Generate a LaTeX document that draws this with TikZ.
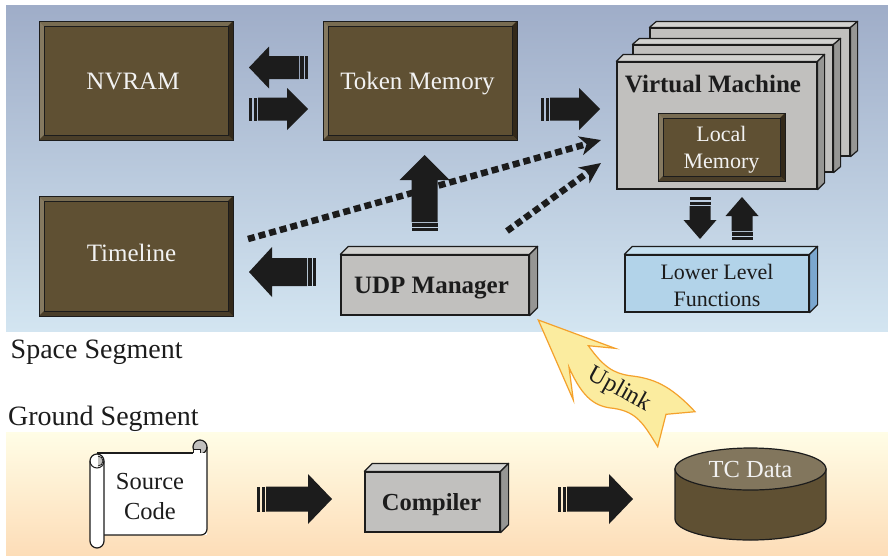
\documentclass[tikz,border=0pt]{standalone}
\usepackage{fontspec}
\setmainfont{Liberation Serif}
\usetikzlibrary{calc,arrows.meta,shapes.geometric}
\definecolor{skyTop}{HTML}{9FADC8}
\definecolor{skyBot}{HTML}{D3E5F1}
\definecolor{sandTop}{HTML}{FFFDE6}
\definecolor{sandBot}{HTML}{FDDDB8}
\definecolor{ink}{HTML}{1C1C1C}
\definecolor{brown}{HTML}{5F5033}
\definecolor{brownLt}{HTML}{857960}
\definecolor{brownTp}{HTML}{786C52}
\definecolor{brownMd}{HTML}{4A3E29}
\definecolor{brownDk}{HTML}{33291A}
\definecolor{greyF}{HTML}{C1C0BE}
\definecolor{greyT}{HTML}{D2D2D0}
\definecolor{greyS}{HTML}{969694}
\definecolor{blueF}{HTML}{B2D3E9}
\definecolor{blueT}{HTML}{C6E0F0}
\definecolor{blueS}{HTML}{7BA7CF}
\definecolor{upFill}{HTML}{FBEC9F}
\definecolor{upLine}{HTML}{F4A12C}
\newcommand{\tsize}[2]{\fontsize{#1}{#2}\selectfont}
\tikzset{
  bevelbox/.style={draw=ink,line width=1pt,fill=brown,text=white!95!black,align=center,inner sep=0pt,
    font=\tsize{25}{27},text height=17pt,text depth=0pt,
    path picture={
      \coordinate (NW) at (path picture bounding box.north west);
      \coordinate (NE) at (path picture bounding box.north east);
      \coordinate (SW) at (path picture bounding box.south west);
      \coordinate (SE) at (path picture bounding box.south east);
      \fill[brownTp] (NW) -- (NE) -- ++(-5,5) -- ($(NW)+(5,5)$) -- cycle;
      \fill[brownLt] (NW) -- (SW) -- ++(5,-5) -- ($(NW)+(5,5)$) -- cycle;
      \fill[brownDk] (NE) -- (SE) -- ++(-5,-5) -- ($(NE)+(-5,5)$) -- cycle;
      \fill[brownMd] (SW) -- (SE) -- ++(-5,-5) -- ($(SW)+(5,-5)$) -- cycle;
      \draw[ink,line width=.6pt] ($(NW)+(5,5)$) rectangle ($(SE)+(-5,-5)$);
    }},
  front/.style={draw=ink,line width=1.2pt,fill=greyF,text=ink,align=center,inner sep=0pt},
  dotline/.style={draw=ink,line width=6.5pt,dash pattern=on 7pt off 4pt,
    -{Stealth[length=21pt,width=19pt,inset=6pt]}},
  label/.style={text=ink,inner sep=0pt,font=\tsize{28}{30},anchor=base west},
}
% extruded top and side faces of a box
\newcommand{\extrude}[5]{%
  \draw[ink,line width=1.2pt,fill=#4,line join=round] (#1.north west) -- ++(#2,-#3) -- ($(#1.north east)+(#2,-#3)$) -- (#1.north east) -- cycle;
  \draw[ink,line width=1.2pt,fill=#5,line join=round] (#1.north east) -- ++(#2,-#3) -- ($(#1.south east)+(#2,-#3)$) -- (#1.south east) -- cycle;
}
% striped block arrow: tail, tip, head length, head half-width, shaft half-width
\newcommand{\blockarrow}[5]{%
  \coordinate (sA) at ($(#1)!9pt!(#2)$);
  \coordinate (sH) at ($(#2)!#3!(#1)$);
  \fill[ink] ($(sA)!#5!90:(#2)$) -- ($(sH)!#5!90:(#2)$) -- ($(sH)!#4!90:(#2)$) -- (#2)
     -- ($(sH)!#4!-90:(#2)$) -- ($(sH)!#5!-90:(#2)$) -- ($(sA)!#5!-90:(#2)$) -- cycle;
  \foreach \sa/\sb in {0pt/3pt,4.5pt/8pt}{
    \coordinate (sP) at ($(#1)!\sa!(#2)$);
    \coordinate (sQ) at ($(#1)!\sb!(#2)$);
    \fill[ink] ($(sP)!#5!90:(#2)$) -- ($(sQ)!#5!90:(#2)$) -- ($(sQ)!#5!-90:(#2)$) -- ($(sP)!#5!-90:(#2)$) -- cycle;
  }
}
\begin{document}
\begin{tikzpicture}[x=1pt,y=-1pt]
\useasboundingbox (0,0) rectangle (888,555);
\fill[white] (0,0) rectangle (888,555);
\shade[top color=skyTop,bottom color=skyBot] (6,5) rectangle (888,331);
\shade[top color=sandTop,bottom color=sandBot] (6,432) rectangle (888,555);

% brown memory boxes
\node[bevelbox,minimum width=194pt,minimum height=119pt] (nvram) at (136,80.5) {NVRAM\hspace*{6pt}};
\node[bevelbox,minimum width=194pt,minimum height=119pt] (token) at (420,80.5) {Token Memory\hspace*{5pt}};
\node[bevelbox,minimum width=194pt,minimum height=120pt,text depth=6pt] (timeline) at (136,256) {Timeline\hspace*{9pt}};

% virtual machine stack
\node[front,minimum width=200pt,minimum height=128pt] (vm3) at (750,92) {};
\extrude{vm3}{7}{6}{greyT}{greyS}
\node[front,minimum width=200pt,minimum height=127pt] (vm2) at (733,108.5) {};
\extrude{vm2}{7}{6}{greyT}{greyS}
\node[front,minimum width=200pt,minimum height=127pt] (vm) at (717,125.5) {};
\extrude{vm}{7}{7}{greyT}{greyS}
\node[text=ink,inner sep=0pt,font=\bfseries\tsize{25}{27}] (vmtitle) at (713,84) {Virtual Machine};
\node[bevelbox,minimum width=127pt,minimum height=68pt,text height=,text depth=] (local) at (721.5,147) {};
\node[text=white!95!black,align=center,inner sep=0pt,font=\tsize{22}{27}] (localtext) at (721.5,150) {Local\\Memory};

% grey and blue boxes
\node[front,minimum width=188pt,minimum height=60pt,font=\bfseries\tsize{25}{27},text height=17pt,text depth=0pt] (udp) at (435,285) {UDP Manager\hspace*{7pt}};
\extrude{udp}{8}{8}{greyT}{greyS}
\node[front,fill=blueF,minimum width=184pt,minimum height=57pt] (lower) at (717,283.5) {};
\node[text=ink,align=center,inner sep=0pt,font=\tsize{22}{27}] (lowertext) at (717,285.5) {Lower Level\\Functions};
\extrude{lower}{8}{8}{blueT}{blueS}
\node[front,minimum width=135pt,minimum height=60pt,font=\bfseries\tsize{24.5}{27},text height=17pt,text depth=0pt] (compiler) at (432.5,502) {Compiler\hspace*{2pt}};
\extrude{compiler}{8}{8}{greyT}{greyS}

% block arrows
\coordinate (a1t) at (308,67.5);  \coordinate (a1h) at (249,67.5);
\coordinate (a2t) at (249,109);   \coordinate (a2h) at (308,109);
\coordinate (a3t) at (541,109);   \coordinate (a3h) at (600,109);
\coordinate (a4t) at (424.5,231); \coordinate (a4h) at (424.5,155);
\coordinate (a5t) at (316,272);   \coordinate (a5h) at (249,272);
\coordinate (a6t) at (700,197);   \coordinate (a6h) at (700,239);
\coordinate (a7t) at (742,240);   \coordinate (a7h) at (742,197);
\coordinate (a8t) at (257,499);   \coordinate (a8h) at (332,499);
\coordinate (a9t) at (558,499);   \coordinate (a9h) at (633,499);
\blockarrow{a1t}{a1h}{20pt}{21pt}{11.5pt}
\blockarrow{a2t}{a2h}{21pt}{21pt}{11.5pt}
\blockarrow{a3t}{a3h}{21pt}{21pt}{11.5pt}
\blockarrow{a4t}{a4h}{25pt}{25pt}{13pt}
\blockarrow{a5t}{a5h}{23pt}{25pt}{14pt}
\blockarrow{a6t}{a6h}{19pt}{16.5pt}{10.5pt}
\blockarrow{a7t}{a7h}{19pt}{16.5pt}{10.5pt}
\blockarrow{a8t}{a8h}{24pt}{25pt}{12.5pt}
\blockarrow{a9t}{a9h}{24pt}{25pt}{12.5pt}

% dotted connectors
\coordinate (d1s) at (248,239); \coordinate (d1e) at (601,140);
\coordinate (d2s) at (507,231); \coordinate (d2e) at (601,163);
\draw[dotline] (d1s) -- (d1e);
\draw[dotline] (d2s) -- (d2e);

% segment labels
\node[label] (space) at (10.5,358) {Space Segment};
\node[label] (ground) at (8,425) {Ground Segment};

% uplink flash
\draw[fill=upFill,draw=upLine,line width=1.2pt,line join=miter]
  (538.3,320) -- (615,348.3) -- (588.3,345.7)
  .. controls (603.3,366.7) and (613.3,373.3) .. (630,375.7)
  .. controls (653.3,378.3) and (670,385) .. (695,411.7)
  -- (666,414.3) -- (657.7,446.7)
  .. controls (643.3,423.3) and (636.7,411.7) .. (613.3,408.3)
  .. controls (596.7,406.7) and (583.3,400) .. (569,367.3)
  -- (573.3,400) -- cycle;
\node[rotate=-29,text=ink,inner sep=0pt,font=\tsize{24.5}{27}] (uplink) at (619.5,390) {Uplink};

% source code scroll
\draw[ink,line width=1.2pt,fill=greyF] (200,447) circle[radius=7pt];
\fill[white] (100,453) rectangle (207,535);
\draw[ink,line width=1.2pt] (97,453) -- (193,453);
\draw[ink,line width=1.2pt] (207,447) -- (207,529) arc[radius=6pt,start angle=0,end angle=-90] -- (100,535);
\draw[ink,line width=1pt,fill=white] (193,453) -- (193,449) -- (200,449) -- (200,453);
\draw[ink,line width=1.2pt,fill=white] (90,461) arc[radius=7pt,start angle=180,end angle=0] -- (104,541) arc[radius=7pt,start angle=0,end angle=-180] -- cycle;
\draw[ink,line width=1pt] (90,461) arc[radius=7pt,start angle=180,end angle=360];
\fill[greyF] (98,456) arc[radius=5pt,start angle=90,end angle=-90] -- cycle;
\draw[ink,line width=.8pt] (98,456) arc[radius=5pt,start angle=90,end angle=-90];
\node[text=ink,inner sep=0pt,align=center,font=\tsize{24.5}{30}] (source) at (150,496) {Source\\Code};

% TC data cylinder
\draw[ink,line width=1.2pt,fill=brown] (675,469) -- (675,519) arc[x radius=75.5pt,y radius=21pt,start angle=180,end angle=360] -- (826,469) -- cycle;
\node[ellipse,draw=ink,line width=1.2pt,fill=brownLt!93!brown,text=white!95!black,minimum width=151pt,minimum height=42pt,inner sep=0pt,font=\tsize{24.5}{27}] (tc) at (750.5,469) {TC Data};
\end{tikzpicture}
\end{document}
